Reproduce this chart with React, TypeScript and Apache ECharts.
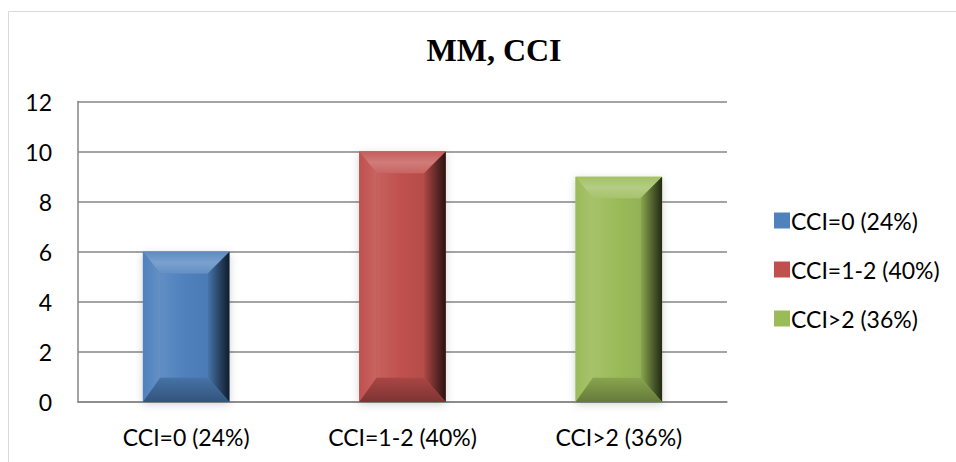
import React, { useEffect, useRef } from "react";
import * as echarts from "echarts";

const categories = ["CCI=0 (24%)", "CCI=1-2 (40%)", "CCI>2 (36%)"];
const values = [6, 10, 9];
const seriesColors = ["#4F81BD", "#C0504D", "#9BBB59"];
const titleText = "MM, CCI";
const yMin = 0;
const yMax = 12;
const yInterval = 2;

function shade(hex: string, amt: number): string {
  const n = parseInt(hex.slice(1), 16);
  let r = (n >> 16) & 255, g = (n >> 8) & 255, b = n & 255;
  if (amt >= 0) {
    r = Math.round(r + (255 - r) * amt);
    g = Math.round(g + (255 - g) * amt);
    b = Math.round(b + (255 - b) * amt);
  } else {
    r = Math.round(r * (1 + amt));
    g = Math.round(g * (1 + amt));
    b = Math.round(b * (1 + amt));
  }
  return "rgb(" + r + "," + g + "," + b + ")";
}

function makeRender(color: string) {
  return function (params: any, api: any) {
    const idx = api.value(0);
    const val = api.value(1);
    const top = api.coord([idx, val]);
    const bot = api.coord([idx, 0]);
    const catW = api.size([1, 0])[0];
    const w = catW * 0.4;
    const x0 = top[0] - w / 2;
    const x1 = top[0] + w / 2;
    const y0 = top[1];
    const y1 = bot[1];
    const bl = w * 0.2, br = w * 0.25, bt = w * 0.25, bb = w * 0.28;
    const ix0 = x0 + bl, ix1 = x1 - br, iy0 = y0 + bt, iy1 = y1 - bb;
    const lin = (stops: string[], horiz: boolean) => ({
      type: "linear",
      x: 0, y: 0, x2: horiz ? 1 : 0, y2: horiz ? 0 : 1,
      colorStops: stops.map((c, k) => ({ offset: k / (stops.length - 1), color: c })),
    });
    return {
      type: "group",
      children: [
        {
          type: "rect",
          shape: { x: x0, y: y0, width: w, height: y1 - y0 },
          style: { fill: color, shadowBlur: 8, shadowColor: "rgba(0,0,0,0.18)", shadowOffsetY: 2 },
        },
        {
          type: "rect",
          shape: { x: ix0, y: iy0, width: ix1 - ix0, height: iy1 - iy0 },
          style: { fill: lin([shade(color, 0.1), color, shade(color, -0.05)], true) },
        },
        {
          type: "polygon",
          shape: { points: [[x0, y0], [x1, y0], [ix1, iy0], [ix0, iy0]] },
          style: { fill: lin([shade(color, 0.08), shade(color, 0.25), shade(color, 0.12)], false) },
        },
        {
          type: "polygon",
          shape: { points: [[x0, y0], [ix0, iy0], [ix0, iy1], [x0, y1]] },
          style: { fill: lin([shade(color, 0.0), shade(color, 0.12)], true) },
        },
        {
          type: "polygon",
          shape: { points: [[x1, y0], [x1, y1], [ix1, iy1], [ix1, iy0]] },
          style: { fill: lin([shade(color, -0.1), shade(color, -0.45), shade(color, -0.78)], true) },
        },
        {
          type: "polygon",
          shape: { points: [[x0, y1], [ix0, iy1], [ix1, iy1], [x1, y1]] },
          style: { fill: lin([shade(color, -0.12), shade(color, -0.35)], false) },
        },
      ],
    };
  };
}

export default function App() {
  const ref = useRef<HTMLDivElement>(null);
  useEffect(() => {
    if (!ref.current) return;
    const chart = echarts.init(ref.current, null, { renderer: "svg" });
    const font = "Lato, 'Noto Sans', sans-serif";
    chart.setOption({
      animation: false,
      backgroundColor: "#ffffff",
      title: {
        text: titleText,
        left: 489,
        textAlign: "center",
        top: 29,
        textStyle: { fontFamily: "'Liberation Serif', 'Times New Roman', serif", fontWeight: "bold", fontSize: 32, color: "#000" },
      },
      graphic: [
        {
          type: "rect",
          shape: { x: 8.5, y: 11.5, width: 1000, height: 1000 },
          style: { fill: "none", stroke: "#d9d9d9", lineWidth: 1 },
          silent: true,
          z: -1,
        },
      ],
      legend: {
        orient: "vertical",
        left: 769,
        top: 204,
        itemWidth: 16,
        itemHeight: 16,
        itemGap: 26,
        icon: "rect",
        textStyle: { fontFamily: font, fontSize: 23, color: "#000", padding: [0, 0, 0, -4] },
        data: categories.map((c, i) => ({ name: c, itemStyle: { color: seriesColors[i] } })),
      },
      grid: { left: 78, right: 229, top: 101.5, bottom: 60 },
      xAxis: {
        type: "category",
        data: categories,
        axisLine: { show: true, lineStyle: { color: "#868686", width: 1.5 } },
        axisTick: { show: false },
        axisLabel: { fontFamily: font, fontSize: 23, color: "#000", margin: 23 },
      },
      yAxis: {
        type: "value",
        min: yMin,
        max: yMax,
        interval: yInterval,
        axisLine: { show: true, lineStyle: { color: "#868686", width: 1.5 } },
        axisTick: { show: false },
        splitLine: { show: true, lineStyle: { color: "#868686", width: 1.5 } },
        axisLabel: { fontFamily: font, fontSize: 23, color: "#000", margin: 26 },
      },
      series: categories.map((c, i) => ({
        type: "custom",
        name: c,
        color: seriesColors[i],
        renderItem: makeRender(seriesColors[i]),
        encode: { x: 0, y: 1 },
        data: [[i, values[i]]],
        z: 3,
      })),
    });
    return () => chart.dispose();
  }, []);
  return (
    <div
      ref={ref}
      style={{ position: "absolute", left: 0, top: 0, width: 956, height: 462 }}
    />
  );
}
